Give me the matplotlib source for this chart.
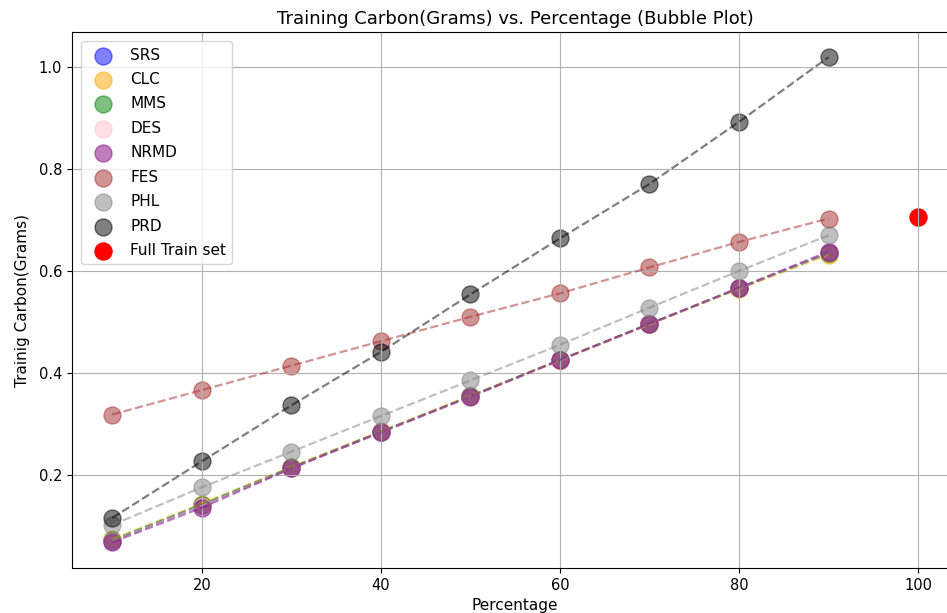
import numpy as np
import matplotlib
matplotlib.use("Agg")
import matplotlib.pyplot as plt

# ---------------- DATA ----------------
percentages = [10, 20, 30, 40, 50, 60, 70, 80, 90]

srs = [0.070, 0.140, 0.213, 0.284, 0.354, 0.425, 0.496, 0.566, 0.636]
clc = [0.073, 0.143, 0.215, 0.285, 0.355, 0.425, 0.495, 0.565, 0.632]
mms = [0.071, 0.141, 0.214, 0.284, 0.354, 0.425, 0.496, 0.566, 0.635]
des = [0.069, 0.139, 0.212, 0.283, 0.353, 0.424, 0.495, 0.566, 0.637]
nrmd = [0.067, 0.135, 0.212, 0.283, 0.353, 0.425, 0.496, 0.567, 0.638]
fes = [0.318, 0.366, 0.414, 0.462, 0.510, 0.556, 0.607, 0.657, 0.703]
phl = [0.101, 0.175, 0.245, 0.315, 0.385, 0.455, 0.528, 0.600, 0.670]
prd = [0.115, 0.226, 0.336, 0.441, 0.554, 0.664, 0.771, 0.893, 1.020]

full_x = [100]
full_y = [0.707]

methods = ["SRS", "CLC", "MMS", "DES", "NRMD", "FES", "PHL", "PRD"]
series = [srs, clc, mms, des, nrmd, fes, phl, prd]
colors = ["blue", "orange", "green", "pink", "purple", "brown", "gray", "black"]

# ---------------- PLOT ----------------
fig = plt.figure(figsize=(9.47, 6.13), dpi=100)
ax = fig.add_axes([0.076, 0.0734, 0.936, 0.874])

for name, vals, c in zip(methods, series, colors):
    ax.scatter(percentages, vals, s=150, color=c, alpha=0.5, label=name)
    ax.plot(percentages, vals, "--", color=c, alpha=0.5, linewidth=1.6)

ax.scatter(full_x, full_y, s=150, color="red", label="Full Train set")

ax.set_xlim(5.5, 104.5)
ax.set_ylim(0.0165, 1.069)
ax.set_xticks([20, 40, 60, 80, 100])
ax.set_yticks([0.2, 0.4, 0.6, 0.8, 1.0])
ax.tick_params(labelsize=10.5)
ax.set_title("Training Carbon(Grams) vs. Percentage (Bubble Plot)", fontsize=13)
ax.set_xlabel("Percentage", fontsize=11)
ax.set_ylabel("Trainig Carbon(Grams)", fontsize=11, labelpad=6)
ax.legend(loc="upper left", fontsize=11, labelspacing=0.62, handletextpad=0.8,
          borderaxespad=0.6)
ax.grid(True)

fig.savefig("out.png", dpi=100)
